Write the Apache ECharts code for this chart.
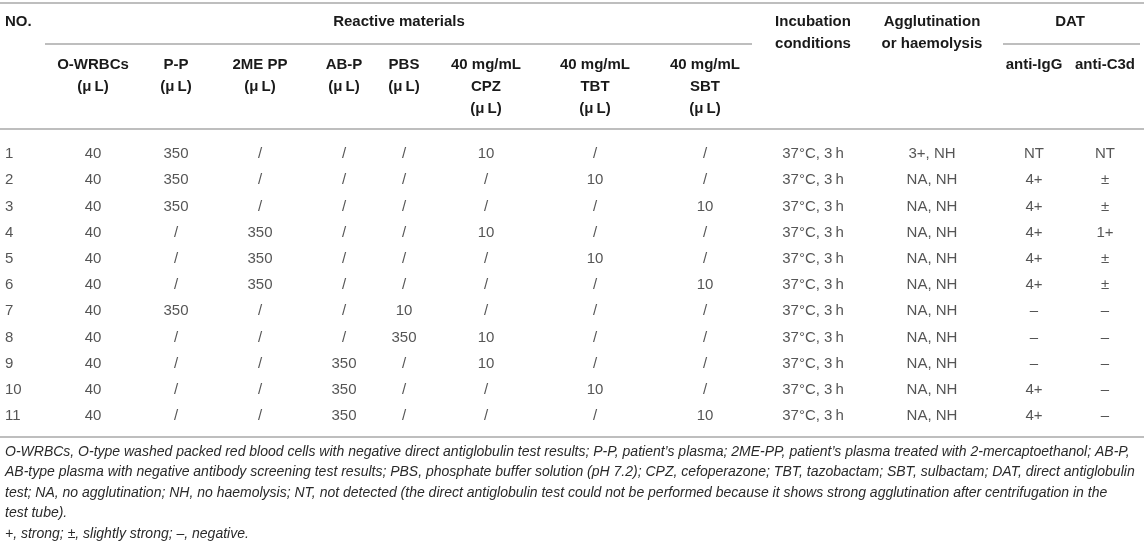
<!DOCTYPE html>
<html>
<head>
<meta charset="utf-8">
<title>Reactive materials table</title>
<script src="https://cdn.jsdelivr.net/npm/echarts/dist/echarts.min.js"></script>
<style>
    html, body { margin: 0; padding: 0; background: #fff; }
    #main { width: 1144px; height: 544px; }
</style>
</head>
<body>
<div id="main"></div>
<script>
// 表格数据：每一列一个数组
const rowNo = ['1', '2', '3', '4', '5', '6', '7', '8', '9', '10', '11'];
const oWrbcs = ['40', '40', '40', '40', '40', '40', '40', '40', '40', '40', '40'];
const pp = ['350', '350', '350', '/', '/', '/', '350', '/', '/', '/', '/'];
const mePP = ['/', '/', '/', '350', '350', '350', '/', '/', '/', '/', '/'];
const abP = ['/', '/', '/', '/', '/', '/', '/', '/', '350', '350', '350'];
const pbs = ['/', '/', '/', '/', '/', '/', '10', '350', '/', '/', '/'];
const cpz = ['10', '/', '/', '10', '/', '/', '/', '10', '10', '/', '/'];
const tbt = ['/', '10', '/', '/', '10', '/', '/', '/', '/', '10', '/'];
const sbt = ['/', '/', '10', '/', '/', '10', '/', '/', '/', '/', '10'];
const incubation = ['37°C, 3\u2009h', '37°C, 3\u2009h', '37°C, 3\u2009h', '37°C, 3\u2009h', '37°C, 3\u2009h', '37°C, 3\u2009h',
    '37°C, 3\u2009h', '37°C, 3\u2009h', '37°C, 3\u2009h', '37°C, 3\u2009h', '37°C, 3\u2009h'];
const agglutination = ['3+, NH', 'NA, NH', 'NA, NH', 'NA, NH', 'NA, NH', 'NA, NH', 'NA, NH', 'NA, NH', 'NA, NH', 'NA, NH', 'NA, NH'];
const antiIgG = ['NT', '4+', '4+', '4+', '4+', '4+', '–', '–', '–', '4+', '4+'];
const antiC3d = ['NT', '±', '±', '1+', '±', '±', '–', '–', '–', '–', '–'];

// 表头文字
const subHeaders = [
    ['O-WRBCs', '(\u03bc\u2009L)'],
    ['P-P', '(\u03bc\u2009L)'],
    ['2ME PP', '(\u03bc\u2009L)'],
    ['AB-P', '(\u03bc\u2009L)'],
    ['PBS', '(\u03bc\u2009L)'],
    ['40 mg/mL', 'CPZ', '(\u03bc\u2009L)'],
    ['40 mg/mL', 'TBT', '(\u03bc\u2009L)'],
    ['40 mg/mL', 'SBT', '(\u03bc\u2009L)']
];
const footnotes = [
    'O-WRBCs, O-type washed packed red blood cells with negative direct antiglobulin test results; P-P, patient\u2019s plasma; 2ME-PP, patient\u2019s plasma treated with 2-mercaptoethanol; AB-P,',
    'AB-type plasma with negative antibody screening test results; PBS, phosphate buffer solution (pH 7.2); CPZ, cefoperazone; TBT, tazobactam; SBT, sulbactam; DAT, direct antiglobulin',
    'test; NA, no agglutination; NH, no haemolysis; NT, not detected (the direct antiglobulin test could not be performed because it shows strong agglutination after centrifugation in the',
    'test tube).',
    '+, strong; \u00b1, slightly strong; \u2013, negative.'
];

// 版式：各列中心位置（像素）
const columns = [rowNo, oWrbcs, pp, mePP, abP, pbs, cpz, tbt, sbt, incubation, agglutination, antiIgG, antiC3d];
const colX = [5, 93, 176, 260, 344, 404, 486, 595, 705, 813, 932, 1034, 1105];

const FONT = '"Liberation Sans", Arial, sans-serif';
const TEXT_COLOR = '#2a2a2a';
const RULE_COLOR = '#a8a8a8';

var myChart = echarts.init(document.getElementById('main'));

// 每一列一个散点系列，只显示文字标签
let series = columns.map(function (col, c) {
    return {
        type: 'scatter',
        symbolSize: 0,
        silent: true,
        data: col.map(function (text, i) {
            return [colX[c], rowNo[i], text];
        }),
        label: {
            show: true,
            position: 'inside',
            align: c === 0 ? 'left' : 'center',
            verticalAlign: 'middle',
            color: TEXT_COLOR,
            fontSize: 15,
            fontFamily: FONT,
            formatter: function (p) { return p.value[2]; }
        }
    };
});

// 表头、横线、注释
function text(x, y, str, opt) {
    opt = opt || {};
    return {
        type: 'text',
        silent: true,
        style: {
            x: x, y: y, text: str,
            fill: opt.fill || '#1a1a1a',
            font: opt.font || ('bold 15px ' + FONT),
            textAlign: opt.align || 'center',
            textVerticalAlign: 'middle'
        }
    };
}
function rule(x1, x2, y) {
    return {
        type: 'line',
        silent: true,
        shape: { x1: x1, y1: y, x2: x2, y2: y },
        style: { stroke: RULE_COLOR, lineWidth: 1.5 }
    };
}

let graphics = [
    rule(0, 1144, 3),
    rule(45, 752, 44),
    rule(1003, 1140, 44),
    rule(0, 1144, 129),
    rule(0, 1144, 437),
    text(5, 22, 'NO.', { align: 'left' }),
    text(399, 22, 'Reactive materials'),
    text(813, 22, 'Incubation'),
    text(813, 44, 'conditions'),
    text(932, 22, 'Agglutination'),
    text(932, 44, 'or haemolysis'),
    text(1070, 22, 'DAT'),
    text(1034, 65, 'anti-IgG'),
    text(1105, 65, 'anti-C3d')
];
subHeaders.forEach(function (lines, k) {
    lines.forEach(function (line, j) {
        graphics.push(text(colX[k + 1], 65 + j * 22, line));
    });
});
footnotes.forEach(function (line, j) {
    graphics.push(text(5, 452 + j * 20.5, line, {
        align: 'left',
        fill: TEXT_COLOR,
        font: 'italic 14px ' + FONT
    }));
});

let option = {
    animation: false,
    grid: { left: 0, right: 0, top: 141, bottom: 115 },
    xAxis: { type: 'value', min: 0, max: 1144, show: false },
    yAxis: { type: 'category', data: rowNo, inverse: true, show: false },
    series: series,
    graphic: graphics
};
myChart.setOption(option);
</script>
</body>
</html>
